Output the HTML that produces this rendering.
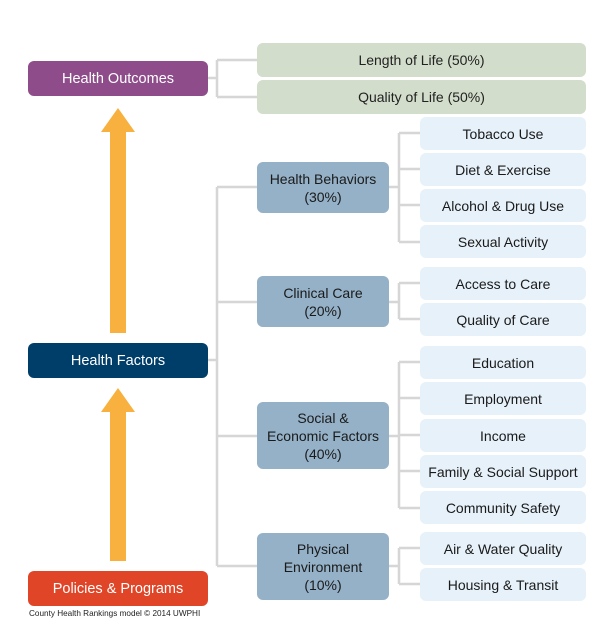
<!DOCTYPE html>
<html><head><meta charset="utf-8"><style>
body{margin:0;width:610px;height:630px;background:#fff;position:relative;overflow:hidden;font-family:"Liberation Sans",sans-serif;}
.b{position:absolute;display:flex;align-items:center;justify-content:center;text-align:center;border-radius:6px;box-sizing:border-box;font-size:14px;line-height:18px;}
.m{left:28px;width:180px;height:35px;color:#fff;font-size:14.5px;}
.g{left:257px;width:329px;height:34px;background:#d3ddcb;color:#222;}
.c{left:257px;width:132px;background:#94b1c7;color:#1a1a1a;}
.s{left:420px;width:166px;height:33px;background:#e6f1f9;color:#1a1a1a;}
svg{position:absolute;left:0;top:0}
</style></head><body>
<svg width="610" height="630">
<g stroke="#d6d6d6" stroke-width="2.5" fill="none">
<path d="M208 78H217M217 60V97M217 60H257M217 97H257"/>
<path d="M208 360H217M217 187V566M217 187H257M217 302H257M217 436H257M217 566H257"/>
<path d="M389 187H399M399 133V242M399 133H420M399 169H420M399 205H420M399 242H420"/>
<path d="M389 302H399M399 283V319M399 283H420M399 319H420"/>
<path d="M389 436H399M399 362V508M399 362H420M399 398H420M399 435H420M399 471H420M399 508H420"/>
<path d="M389 566H399M399 548V584M399 548H420M399 584H420"/>
</g>
<g fill="#f8b03e">
<polygon points="118,108 135,132 126,132 126,333 110,333 110,132 101,132"/>
<polygon points="118,388 135,412 126,412 126,561 110,561 110,412 101,412"/>
</g>
</svg>
<div class="b m" style="top:61px;background:#8e4d8a">Health Outcomes</div>
<div class="b m" style="top:343px;background:#003e6a">Health Factors</div>
<div class="b m" style="top:571px;background:#e04527">Policies &amp; Programs</div>
<div style="position:absolute;left:29px;top:609px;font-size:8.2px;color:#222">County Health Rankings model © 2014 UWPHI</div>
<div class="b g" style="top:43px">Length of Life (50%)</div>
<div class="b g" style="top:80px">Quality of Life (50%)</div>
<div class="b c" style="top:162px;height:51px">Health Behaviors<br>(30%)</div>
<div class="b c" style="top:276px;height:51px">Clinical Care<br>(20%)</div>
<div class="b c" style="top:402px;height:67px">Social &amp;<br>Economic Factors<br>(40%)</div>
<div class="b c" style="top:533px;height:67px">Physical<br>Environment<br>(10%)</div>
<div class="b s" style="top:117px">Tobacco Use</div>
<div class="b s" style="top:153px">Diet &amp; Exercise</div>
<div class="b s" style="top:189px">Alcohol &amp; Drug Use</div>
<div class="b s" style="top:225px">Sexual Activity</div>
<div class="b s" style="top:267px">Access to Care</div>
<div class="b s" style="top:303px">Quality of Care</div>
<div class="b s" style="top:346px">Education</div>
<div class="b s" style="top:382px">Employment</div>
<div class="b s" style="top:419px">Income</div>
<div class="b s" style="top:455px">Family &amp; Social Support</div>
<div class="b s" style="top:491px">Community Safety</div>
<div class="b s" style="top:532px">Air &amp; Water Quality</div>
<div class="b s" style="top:568px">Housing &amp; Transit</div>
</body></html>
